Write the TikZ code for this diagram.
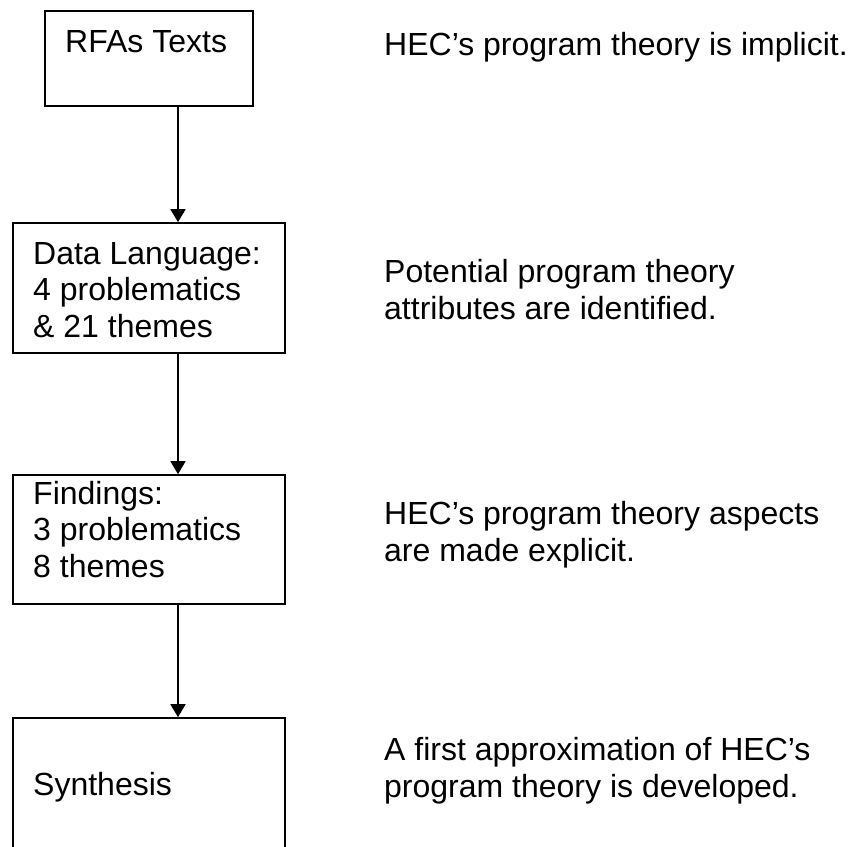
\documentclass[tikz,border=0pt]{standalone}
\usepackage{fontspec}
\setmainfont{Liberation Sans}
\usetikzlibrary{arrows.meta}
\begin{document}
\begin{tikzpicture}[x=1pt,y=-1pt,
		every node/.style={font=\fontsize{32}{36.5}\selectfont,inner sep=0pt},
		box/.style={draw,line width=1.6pt,rectangle},
		txt/.style={anchor=base west,align=left},
		flow/.style={line width=1.6pt,-{Triangle[length=13pt,width=15pt]}}]
		\useasboundingbox (0,0) rectangle (850,846);
		% boxes
		\node[box,minimum width=208pt,minimum height=95pt] (rfa) at (149,58.5) {};
		\node[box,minimum width=272pt,minimum height=130pt] (lang) at (149,288) {};
		\node[box,minimum width=272pt,minimum height=129pt] (find) at (149,539.5) {};
		\node[box,minimum width=272pt,minimum height=132pt] (synth) at (149,784) {};
		% box texts (base = last line)
		\node[txt] (rfatxt) at (65,52) {RFAs Texts};
		\node[txt] (langtxt) at (33,337) {Data Language:\\4 problematics\\\& 21 themes};
		\node[txt] (findtxt) at (33,577) {Findings:\\3 problematics\\8 themes};
		\node[txt] (synthtxt) at (33,795) {Synthesis};
		% arrows
		\coordinate (spine) at (178,0);
		\draw[flow] (rfa.south -| spine) -- (lang.north -| spine);
		\draw[flow] (lang.south -| spine) -- (find.north -| spine);
		\draw[flow] (find.south -| spine) -- (synth.north -| spine);
		% notes on the right
		\node[txt] (note1) at (384,55) {HEC’s program theory is implicit.};
		\node[txt] (note2) at (384,319) {Potential program theory\\attributes are identified.};
		\node[txt] (note3) at (384,561) {HEC’s program theory aspects\\are made explicit.};
		\node[txt] (note4) at (384,797) {A first approximation of HEC’s\\program theory is developed.};
\end{tikzpicture}
\end{document}
